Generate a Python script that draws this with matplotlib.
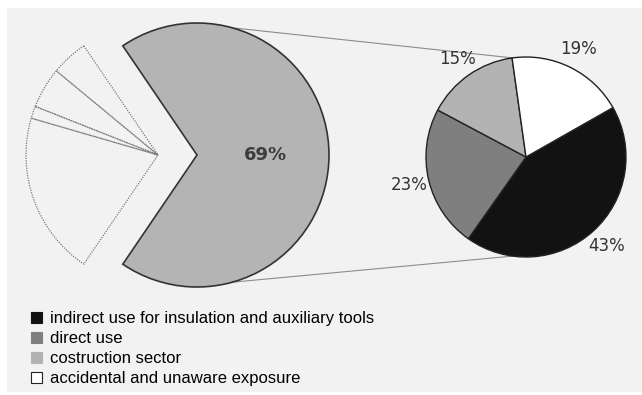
import numpy as np
import matplotlib
matplotlib.use("Agg")
import matplotlib.pyplot as plt
from matplotlib.patches import Rectangle, Patch

# left pie: whole picture, 69% slice pulled out
outer_vals = [69, 4.5, 5, 1.5, 20]
outer_label = "69%"

# right pie: breakdown of the 69% slice
inner_names = ["indirect use for insulation and auxiliary tools",
               "direct use",
               "costruction sector",
               "accidental and unaware exposure"]
inner_vals = [43, 23, 15, 19]
inner_colors = ["#121212", "#7f7f7f", "#b3b3b3", "#ffffff"]

W, H = 642, 395
fig = plt.figure(figsize=(W / 100, H / 100), dpi=100)
fig.patch.set_facecolor("white")
ax = fig.add_axes([0, 0, 1, 1])
ax.set_xlim(0, W)
ax.set_ylim(0, H)
ax.set_aspect("equal")
ax.axis("off")

# grey panel behind everything
ax.add_patch(Rectangle((7, 3), W - 7, H - 11, facecolor="#f2f2f2",
                       edgecolor="none", zorder=0))

# left pie (explode is in data units here, not a fraction)
start = -outer_vals[0] / 100 * 180
w_out, t_out = ax.pie(outer_vals, center=(158, 240), radius=132,
                      startangle=start, explode=[39, 0, 0, 0, 0],
                      labels=[outer_label, "", "", "", ""],
                      labeldistance=0.52, frame=True)
w_out[0].set_facecolor("#b4b4b4")
w_out[0].set_edgecolor("#333333")
w_out[0].set_linewidth(1.2)
for w in w_out[1:]:
    w.set_facecolor("none")
    w.set_edgecolor("#7a7a7a")
    w.set_linestyle((0, (1, 1)))
    w.set_linewidth(0.9)
for t in t_out:
    t.set_fontsize(13)
    t.set_fontweight("bold")
    t.set_color("#3c3c3c")
    t.set_ha("center")
    t.set_va("center")

# right pie
w_in, t_in, p_in = ax.pie(inner_vals, colors=inner_colors, center=(526, 238),
                          radius=100, startangle=29.6, counterclock=False,
                          autopct="%d%%", pctdistance=1.2, frame=True,
                          wedgeprops=dict(edgecolor="#222222", linewidth=1.0),
                          textprops=dict(fontsize=12, color="#333333"))

ax.set_xlim(0, W)
ax.set_ylim(0, H)
ax.axis("off")

# connector lines between the two pies
cx0, cy0 = w_out[0].center
r0 = w_out[0].r
cx1, cy1 = w_in[0].center
r1 = w_in[0].r
for a0, a1 in [(74.5, 97.7), (-74.5, -97.7)]:
    x0 = cx0 + r0 * np.cos(np.radians(a0))
    y0 = cy0 + r0 * np.sin(np.radians(a0))
    x1 = cx1 + r1 * np.cos(np.radians(a1))
    y1 = cy1 + r1 * np.sin(np.radians(a1))
    ax.plot([x0, x1], [y0, y1], color="#8c8c8c", lw=0.8, zorder=0.5)

handles = [Patch(facecolor=c, edgecolor="#222222" if c == "#ffffff" else c,
                 linewidth=0.8) for c in inner_colors]
ax.legend(handles, inner_names, loc="upper left",
          bbox_to_anchor=(31, H - 311), bbox_transform=ax.transData,
          frameon=False, borderpad=0, borderaxespad=0,
          handlelength=0.65, handleheight=0.65, handletextpad=0.5,
          labelspacing=0.31,
          prop=dict(family="Liberation Sans", size=12))

fig.savefig("out.png", dpi=100, facecolor="white")
